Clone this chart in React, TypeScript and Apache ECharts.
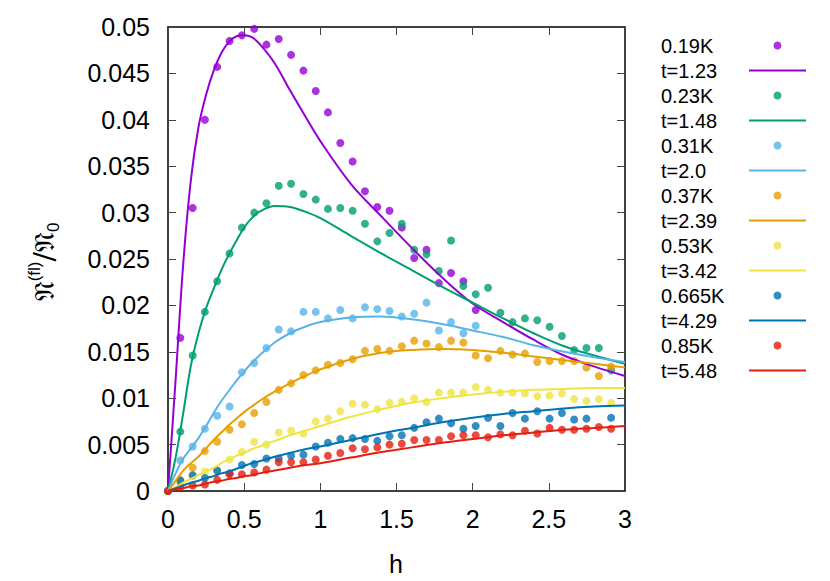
import React, { useEffect, useRef } from "react";
import * as echarts from "echarts";

const FONT = "'Liberation Sans', Arimo, Helvetica, Arial, sans-serif";

// measured h positions of the data points
const H = [0, 0.081, 0.162, 0.242, 0.323, 0.404, 0.485, 0.566, 0.646, 0.727, 0.808, 0.889, 0.97, 1.05, 1.131, 1.212, 1.293, 1.374, 1.454, 1.535, 1.616, 1.697, 1.778, 1.858, 1.939, 2.02, 2.101, 2.182, 2.262, 2.343, 2.424, 2.505, 2.586, 2.666, 2.747, 2.828, 2.909];

const pts019 = [0, 0.0165, 0.0305, 0.04, 0.0457, 0.0485, 0.0491, 0.0498, 0.0481, 0.0487, 0.047, 0.0453, 0.0431, 0.0408, 0.0375, 0.0355, 0.0323, 0.0306, 0.0302, 0.0284, 0.0251, 0.026, 0.0224, 0.0235, 0.0226, 0.0195];
const pts023 = [0, 0.0064, 0.0146, 0.0193, 0.0226, 0.0256, 0.0284, 0.03, 0.031, 0.0329, 0.0331, 0.032, 0.0314, 0.0304, 0.0305, 0.0302, 0.0288, 0.0269, 0.0278, 0.0288, 0.026, 0.0255, 0.0237, 0.027, 0.0221, 0.0212, 0.0219, 0.0192, 0.0182, 0.0186, 0.0184, 0.0177, 0.0167, 0.0152, 0.0154, 0.0154, 0.013];
const pts031 = [0, 0.0033, 0.0048, 0.0067, 0.0081, 0.0091, 0.0128, 0.0138, 0.0154, 0.0174, 0.0172, 0.0193, 0.0193, 0.0186, 0.0195, 0.0186, 0.0198, 0.0196, 0.0194, 0.0188, 0.0191, 0.0203, 0.0173, 0.0182, 0.017, 0.0178];
const pts037 = [0, 0.0012, 0.0025, 0.0043, 0.0053, 0.0066, 0.0072, 0.0084, 0.0096, 0.0109, 0.0116, 0.0125, 0.013, 0.0136, 0.0138, 0.0142, 0.0151, 0.0153, 0.0151, 0.0156, 0.0162, 0.0159, 0.0155, 0.0162, 0.016, 0.0146, 0.0143, 0.0151, 0.0147, 0.0148, 0.0139, 0.014, 0.014, 0.014, 0.0133, 0.0124, 0.0134];
const pts053 = [0, 0.0009, 0.0016, 0.0021, 0.0022, 0.0034, 0.0042, 0.0053, 0.005, 0.0063, 0.0065, 0.0062, 0.0075, 0.0078, 0.0086, 0.0094, 0.0093, 0.0088, 0.0095, 0.0096, 0.01, 0.0096, 0.0106, 0.0106, 0.0106, 0.0112, 0.0109, 0.0106, 0.0106, 0.0105, 0.0102, 0.0103, 0.0105, 0.0099, 0.0097, 0.0099, 0.0095];
const pts0665 = [0, 0.0011, 0.0017, 0.0014, 0.0022, 0.0019, 0.0028, 0.0029, 0.0035, 0.0035, 0.0038, 0.0039, 0.0048, 0.0052, 0.0056, 0.0057, 0.0056, 0.0054, 0.0059, 0.006, 0.0068, 0.0074, 0.0078, 0.0073, 0.0067, 0.007, 0.0079, 0.007, 0.0084, 0.0078, 0.0086, 0.0078, 0.0084, 0.0077, 0.0078, null, 0.0079];
const pts085 = [0, 0.0004, 0.0006, 0.0007, 0.0012, 0.0018, 0.0018, 0.002, 0.0023, 0.0031, 0.0031, 0.0031, 0.0034, 0.0038, 0.0041, 0.0046, 0.0045, 0.0047, 0.005, 0.0051, 0.0055, 0.0055, 0.0055, 0.0059, 0.006, 0.006, 0.0058, 0.0061, 0.006, 0.0065, 0.0062, 0.0068, 0.0066, 0.0066, 0.0067, 0.0069, 0.0067];

// theory curves sampled at these h values
const CH = [0, 0.05, 0.1, 0.15, 0.2, 0.25, 0.3, 0.35, 0.4, 0.45, 0.5, 0.55, 0.6, 0.7, 0.8, 0.9, 1.0, 1.2, 1.4, 1.6, 1.8, 2.0, 2.2, 2.4, 2.6, 2.8, 3.0];
const cur123 = [0, 0.012, 0.0245, 0.0335, 0.0392, 0.0427, 0.0453, 0.0472, 0.0484, 0.049, 0.0491, 0.0489, 0.0482, 0.0461, 0.0432, 0.0404, 0.0377, 0.0331, 0.0296, 0.0262, 0.023, 0.0202, 0.0182, 0.0163, 0.0146, 0.0134, 0.0124];
const cur148 = [0, 0.0036, 0.0084, 0.0135, 0.017, 0.0197, 0.0218, 0.0238, 0.0255, 0.027, 0.0284, 0.0294, 0.0301, 0.0307, 0.0306, 0.0301, 0.0294, 0.0275, 0.0256, 0.0238, 0.022, 0.0203, 0.0186, 0.017, 0.0156, 0.0146, 0.0137];
const cur200 = [0, 0.0019, 0.0035, 0.0046, 0.0057, 0.007, 0.0084, 0.0097, 0.0108, 0.0119, 0.0129, 0.0138, 0.0146, 0.016, 0.017, 0.0177, 0.0182, 0.0187, 0.0188, 0.0185, 0.018, 0.0173, 0.0166, 0.0157, 0.015, 0.0144, 0.0139];
const cur239 = [0, 0.0011, 0.0022, 0.003, 0.0037, 0.0046, 0.0055, 0.0063, 0.0071, 0.0078, 0.0085, 0.0091, 0.0097, 0.0107, 0.0116, 0.0124, 0.0131, 0.0142, 0.0149, 0.0152, 0.0153, 0.0152, 0.0149, 0.0145, 0.0141, 0.0137, 0.0133];
const cur342 = [0, 0.0004, 0.0009, 0.0013, 0.0017, 0.0021, 0.0025, 0.003, 0.0034, 0.0038, 0.0041, 0.0045, 0.0048, 0.0054, 0.006, 0.0065, 0.007, 0.008, 0.0088, 0.0095, 0.01, 0.0104, 0.0107, 0.0109, 0.011, 0.0111, 0.0111];
const cur429 = [0, 0.0003, 0.0006, 0.0009, 0.0011, 0.0014, 0.0016, 0.0019, 0.0021, 0.0024, 0.0027, 0.003, 0.0032, 0.0037, 0.0041, 0.0045, 0.0048, 0.0055, 0.0062, 0.0068, 0.0074, 0.0079, 0.0083, 0.0086, 0.0089, 0.0091, 0.0092];
const cur548 = [0, 0.0002, 0.0003, 0.0005, 0.0006, 0.0008, 0.001, 0.0011, 0.0013, 0.0014, 0.0016, 0.0017, 0.0019, 0.0022, 0.0025, 0.0028, 0.003, 0.0036, 0.0042, 0.0047, 0.0052, 0.0056, 0.006, 0.0063, 0.0066, 0.0068, 0.007];

const pointNames = ["0.19K", "0.23K", "0.31K", "0.37K", "0.53K", "0.665K", "0.85K"];
const lineNames = ["t=1.23", "t=1.48", "t=2.0", "t=2.39", "t=3.42", "t=4.29", "t=5.48"];
const colors = ["#9400d3", "#009e73", "#56b4e9", "#e69f00", "#f0e442", "#0072b2", "#e51e10"];
const pointSets = [pts019, pts023, pts031, pts037, pts053, pts0665, pts085];
const curveSets = [cur123, cur148, cur200, cur239, cur342, cur429, cur548];

const xTicks = { min: 0, max: 3, interval: 0.5 };
const yTicks = { min: 0, max: 0.05, interval: 0.005 };

export default function App() {
  const ref = useRef<HTMLDivElement>(null);
  useEffect(() => {
    document.body.style.margin = "0";
    const chart = echarts.init(ref.current!, null, { renderer: "svg" });
    const series: any[] = [];
    const legendData: any[] = [];
    for (let i = 0; i < 7; i++) {
      const pdata: number[][] = [];
      pointSets[i].forEach((v, k) => {
        if (v !== null && v !== undefined) pdata.push([H[k], v]);
      });
      series.push({
        type: "scatter",
        name: pointNames[i],
        data: pdata,
        symbol: "circle",
        symbolSize: 8,
        itemStyle: { color: colors[i] },
        clip: false,
      });
      series.push({
        type: "line",
        name: lineNames[i],
        data: CH.map((h, k) => [h, curveSets[i][k]]),
        showSymbol: false,
        symbol: "none",
        smooth: 0.35,
        lineStyle: { color: colors[i], width: 2 },
        itemStyle: { color: colors[i] },
      });
      legendData.push({ name: pointNames[i], icon: "circle" });
      legendData.push({ name: lineNames[i], icon: "path://M0,0H57V2H0Z" });
    }
    const tickStyle = { inside: true, length: 8, lineStyle: { color: "#444", width: 1 } };
    const axisLine = { show: true, onZero: false, lineStyle: { color: "#000", width: 1.5 } };
    chart.setOption({
      animation: false,
      grid: { left: 168, right: 205, top: 27, bottom: 90 },
      xAxis: [
        {
          type: "value", ...xTicks, position: "bottom", axisLine,
          axisTick: tickStyle, splitLine: { show: false },
          axisLabel: { fontSize: 25, color: "#000", fontFamily: FONT, margin: 15 },
        },
        {
          type: "value", ...xTicks, position: "top", axisLine,
          axisTick: tickStyle, splitLine: { show: false }, axisLabel: { show: false },
        },
      ],
      yAxis: [
        {
          type: "value", ...yTicks, position: "left", axisLine,
          axisTick: tickStyle, splitLine: { show: false },
          axisLabel: {
            fontSize: 25, color: "#000", fontFamily: FONT, margin: 18,
            formatter: (v: number) => String(+v.toFixed(3)),
          },
        },
        {
          type: "value", ...yTicks, position: "right", axisLine,
          axisTick: tickStyle, splitLine: { show: false }, axisLabel: { show: false },
        },
      ],
      legend: {
        orient: "vertical", left: 656, top: 28, align: "right",
        itemWidth: 57, itemHeight: 8, itemGap: 0,
        formatter: (name: string) => `{n|${name}}`,
        textStyle: {
          fontSize: 20, fontFamily: FONT, color: "#000", lineHeight: 25,
          rich: { n: { width: 83, align: "left", fontSize: 20, fontFamily: FONT, color: "#000", lineHeight: 25 } },
        },
        data: legendData,
        selectedMode: false,
      },
      graphic: [
        {
          type: "text", x: 396, y: 564,
          style: { text: "h", fontSize: 25, fontFamily: FONT, fill: "#000", align: "center", verticalAlign: "middle" },
        },
        {
          type: "text", x: 44, y: 262, rotation: Math.PI / 2,
          style: {
            text: "{a|𝔑}{b|(fl)}{a|/𝔑}{c|0}",
            align: "center", verticalAlign: "middle", fill: "#000",
            rich: {
              a: { fontSize: 28, fontFamily: "'DejaVu Serif', 'DejaVu Sans', serif", fill: "#000", lineHeight: 36, verticalAlign: "middle" },
              b: { fontSize: 17, fontFamily: FONT, fill: "#000", lineHeight: 36, verticalAlign: "top" },
              c: { fontSize: 17, fontFamily: FONT, fill: "#000", lineHeight: 36, verticalAlign: "bottom" },
            },
          },
        },
      ],
      series,
    });
    return () => chart.dispose();
  }, []);
  return <div ref={ref} style={{ width: 830, height: 581 }} />;
}
